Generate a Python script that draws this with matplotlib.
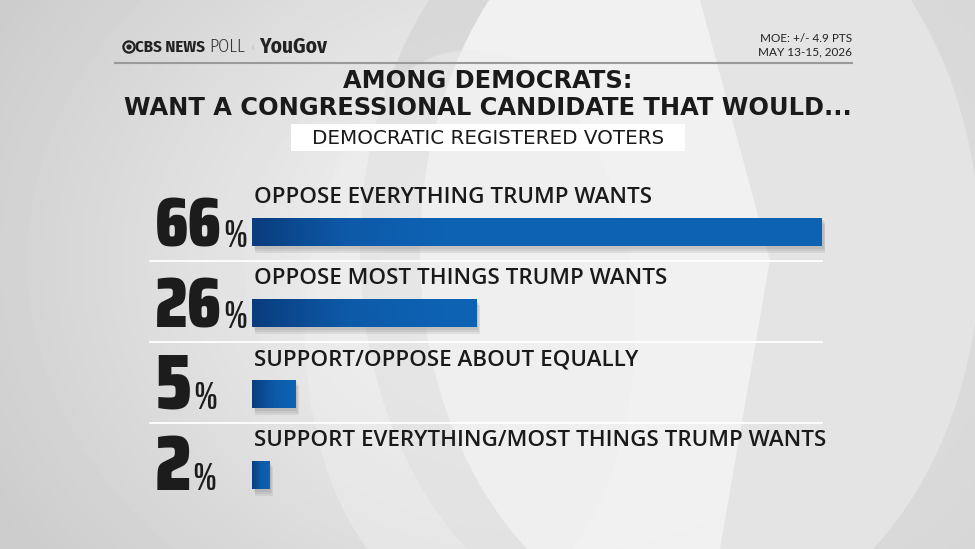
import os
import numpy as np
import matplotlib.pyplot as plt
from matplotlib.patches import Ellipse, Rectangle, Polygon, Circle
from matplotlib.colors import LinearSegmentedColormap
from matplotlib import font_manager

# data
categories = ['OPPOSE EVERYTHING TRUMP WANTS',
              'OPPOSE MOST THINGS TRUMP WANTS',
              'SUPPORT/OPPOSE ABOUT EQUALLY',
              'SUPPORT EVERYTHING/MOST THINGS TRUMP WANTS']
values = [66, 26, 5, 2]

title_lines = ['AMONG DEMOCRATS:', 'WANT A CONGRESSIONAL CANDIDATE THAT WOULD...']
subtitle = 'DEMOCRATIC REGISTERED VOTERS'
moe = ['MOE: +/- 4.9 PTS', 'MAY 13-15, 2026']

files = {os.path.basename(f.fname).lower(): f.fname for f in font_manager.fontManager.ttflist}


def pick(names, family='DejaVu Sans', weight='bold'):
    for n in names:
        if n.lower() in files:
            return font_manager.FontProperties(fname=files[n.lower()])
    return font_manager.FontProperties(family=family, weight=weight)


num_font = pick(['SairaCondensed-Black.ttf', 'SairaCondensed-ExtraBold.ttf',
                 'SairaExtraCondensed-Black.ttf', 'FiraSansExtraCondensed-Black.ttf'])
pct_font = pick(['SairaExtraCondensed-SemiBold.ttf', 'SairaExtraCondensed-Bold.ttf',
                 'SairaExtraCondensed-Black.ttf'])
hdr_bold = pick(['FiraSansCondensed-Bold.ttf', 'FiraSansExtraCondensed-Bold.ttf',
                 'SairaSemiCondensed-Bold.ttf'])
hdr_light = pick(['FiraSansCondensed-Light.ttf', 'FiraSansExtraCondensed-Light.ttf',
                  'SairaSemiCondensed-Light.ttf'], weight='light')

W, H = 975, 549
fig = plt.figure(figsize=(W / 100, H / 100), dpi=100)

bg = fig.add_axes([0, 0, 1, 1])
bg.set_xlim(0, W)
bg.set_ylim(H, 0)
bg.axis('off')
yy, xx = np.mgrid[0:H, 0:W]
d = np.sqrt(((xx - 540) / 520.0) ** 2 + ((yy - 260) / 420.0) ** 2)
shade = 0.98 - 0.15 * np.clip(d, 0, 1.2)
bg.imshow(shade, cmap='gray', vmin=0, vmax=1, extent=[0, W, H, 0], zorder=0)
bg.add_patch(Ellipse((640, 250), 560, 760, facecolor='#d0d0d0', edgecolor='none', alpha=0.55, zorder=1))
bg.add_patch(Ellipse((700, 250), 560, 760, facecolor='#f4f4f4', edgecolor='none', alpha=0.9, zorder=1))
bg.add_patch(Polygon([[700, 0], [975, 0], [975, 549], [720, 549], [770, 260]],
                     closed=True, facecolor='#dcdcdc', edgecolor='none', alpha=0.6, zorder=1))
bg.add_patch(Ellipse((470, 330), 330, 560, facecolor='#eeeeee', edgecolor='none', alpha=0.5, zorder=1))

fig.canvas.draw()
renderer = fig.canvas.get_renderer()


def fit(t, width):
    # rescale a text so that it is `width` pixels wide
    w0 = t.get_window_extent(renderer).width
    t.set_fontsize(t.get_fontsize() * width / w0)
    return t


def run_text(x, y, parts):
    for s, fp, width, gap, col in parts:
        t = bg.text(x, y, s, va='center', ha='left', color=col, zorder=3,
                    fontproperties=fp, fontsize=10)
        fit(t, width)
        x += width + gap


# header with the CBS eye
bg.add_patch(Circle((129, 47), 5.6, facecolor='none', edgecolor='#222222', lw=1.6, zorder=3))
bg.add_patch(Circle((129, 47), 2.6, facecolor='#222222', edgecolor='none', zorder=3))
run_text(135, 47, [('CBS NEWS', hdr_bold, 70, 4, '#222222'),
                   ('POLL', hdr_light, 36, 6, '#333333'),
                   ('|', hdr_light, 2, 6, '#888888'),
                   ('YouGov', hdr_bold, 68, 0, '#222222')])
bg.text(852, 38, moe[0], fontsize=8.5, family='Lato', color='#222222', ha='right', va='center', zorder=3)
bg.text(852, 52, moe[1], fontsize=8.5, family='Lato', color='#222222', ha='right', va='center', zorder=3)
bg.plot([115, 852], [63, 63], color='#9a9a9a', lw=1.5, zorder=3)

t1 = bg.text(488, 81, title_lines[0], fontsize=16.8, fontweight='bold', family='DejaVu Sans',
             color='#1a1a1a', ha='center', va='center', zorder=3)
t2 = bg.text(488, 108, title_lines[1], fontsize=16.8, fontweight='bold', family='DejaVu Sans',
             color='#1a1a1a', ha='center', va='center', zorder=3)
fit(t2, 729)
t1.set_fontsize(t2.get_fontsize())
bg.add_patch(Rectangle((291, 124), 394, 27, facecolor='white', edgecolor='none', zorder=2))
st = bg.text(488, 138, subtitle, fontsize=13.5, family='DejaVu Sans', color='#1a1a1a',
             ha='center', va='center', zorder=3)
fit(st, 352)

# bar axes: x pixel 252 -> 822, rows 81 px apart centred at y=232
ax = fig.add_axes([252 / W, 1 - 515.5 / H, 570 / W, 324 / H])
ax.set_xlim(0, 66)
ax.set_ylim(3.5, -0.5)
ax.axis('off')
ax.patch.set_alpha(0)

grad = LinearSegmentedColormap.from_list('blu', ['#0a3c7e', '#0d5aa8', '#0d62b4'])
ypos = np.arange(len(values))
bh = 0.35
bars = ax.barh(ypos, values, height=bh, color='#0d62b4', zorder=3)
for b in bars:
    x0, y0 = b.get_x(), b.get_y()
    w, h = b.get_width(), b.get_height()
    for k, a in enumerate([0.12, 0.12, 0.12]):
        ax.add_patch(Rectangle((x0 + 0.2 + 0.1 * k, y0 + 0.03 + 0.025 * k), w, h, facecolor='#6a6a6a',
                               edgecolor='none', alpha=a, zorder=2, clip_on=False))
    g = np.linspace(0, 1, 256).reshape(1, -1)
    im = ax.imshow(g, cmap=grad, aspect='auto', extent=[x0, x0 + min(w, 22), y0 + h, y0],
                   zorder=4)
    im.set_clip_path(b)
ax.set_xlim(0, 66)
ax.set_ylim(3.5, -0.5)

px = 66 / 570.0  # data units per pixel
lab = []
for i, (cat, v) in enumerate(zip(categories, values)):
    lab.append(ax.text(0.2, i - 0.42, cat, fontsize=16, fontweight='semibold', family='Open Sans',
                       color='#1a1a1a', va='center', ha='left', zorder=5, clip_on=False))
    xl = -97 * px
    t = ax.text(xl, i + 0.18, str(v), fontproperties=num_font, fontsize=57,
                color='#1c1c1c', ha='left', va='baseline', zorder=5, clip_on=False)
    bb = t.get_window_extent(renderer)
    if bb.width > 67:
        t.set_fontsize(57 * 67 / bb.width)
        bb = t.get_window_extent(renderer)
    p = ax.text(xl + (bb.width + 1) * px, i + 0.18, '%', fontproperties=pct_font, fontsize=30,
                color='#1c1c1c', ha='left', va='baseline', zorder=5, clip_on=False)
    if p.get_window_extent(renderer).width > 24:
        fit(p, 24)
    if i < len(values) - 1:
        ax.plot([-102 * px, 66], [i + 0.36, i + 0.36], color='white', lw=1.3, zorder=1, clip_on=False)
fit(lab[0], 399)
for t in lab[1:]:
    t.set_fontsize(lab[0].get_fontsize())

fig.savefig('out.png', dpi=100)
